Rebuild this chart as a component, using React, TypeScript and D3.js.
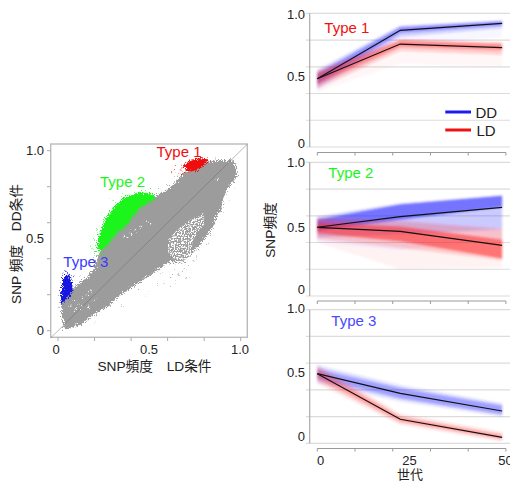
import React from 'react';
import * as d3 from 'd3';

type Pt = [number, number];

// scatter: outlines of the clouds (LD freq, DD freq)
const greyCloud: Pt[] = [
  [.033,.009],[.022,.082],[.022,.154],[.066,.226],[.104,.254],[.159,.293],[.192,.337],[.23,.44],[.27,.5],
  [.31,.56],[.378,.62],[.43,.69],[.487,.72],[.536,.75],[.597,.782],[.64,.821],[.684,.876],[.739,.893],
  [.816,.937],[.887,.948],[.925,.943],[.952,.954],[.974,.909],[.98,.859],[.958,.826],[.925,.782],[.903,.726],
  [.892,.67],[.865,.626],[.848,.576],[.805,.516],[.777,.476],[.722,.421],[.684,.377],[.613,.382],[.558,.349],
  [.504,.31],[.449,.271],[.356,.21],[.268,.132],[.192,.087],[.12,.032],[.05,.009],
];
const speckleArea: Pt[] = [
  [.602,.504],[.651,.559],[.722,.615],[.794,.654],[.805,.598],[.739,.504],[.722,.393],[.651,.376],[.602,.432],
];
const greenCloud: Pt[] = [
  [.213,.465],[.23,.548],[.257,.615],[.285,.659],[.317,.698],[.356,.737],[.405,.754],[.449,.77],[.52,.759],
  [.531,.732],[.449,.682],[.378,.587],[.312,.532],[.268,.465],[.23,.437],
];
const redCloud: Pt[] = [[.685,.915],[.725,.95],[.78,.96],[.83,.95],[.795,.915],[.755,.885],[.71,.885]];
const blueCloud: Pt[] = [[.012,.16],[.02,.24],[.03,.3],[.055,.315],[.08,.27],[.078,.22],[.055,.185],[.03,.155]];

const greyDots: Pt[] = [
  [.56,.32],[.6,.33],[.62,.3],[.64,.33],[.66,.31],[.68,.33],[.7,.34],[.72,.36],[.74,.39],[.76,.41],[.79,.44],
  [.82,.48],[.85,.53],[.64,.27],[.67,.26],[.7,.29],[.73,.31],[.58,.27],[.54,.26],[.62,.24],[.5,.22],[.48,.2],
  [.44,.24],[.35,.14],[.2,.05],[.9,.66],[.97,.8],[.94,.72],[.2,.42],[.15,.34],[.12,.3],[.08,.27],[.55,.78],
  [.6,.82],[.63,.85],[.01,.13],[.03,.06],
];
const whiteDots: Pt[] = [
  [.09,.17],[.12,.15],[.14,.18],[.16,.2],[.18,.22],[.13,.12],[.1,.12],[.2,.17],[.17,.13],[.07,.14],
  [.36,.53],[.38,.52],[.4,.54],[.42,.56],[.45,.58],[.48,.61],[.5,.6],[.87,.84],
];
const greenDots: Pt[] = [[.179,.481],[.2,.44],[.21,.56],[.19,.46],[.24,.42],[.25,.65],[.3,.72],[.358,.754],[.43,.785],[.22,.42],[.2,.51],[.27,.68],[.5,.785]];
const redDots: Pt[] = [[.631,.896],[.65,.883],[.668,.893],[.64,.907],[.677,.92],[.686,.874],[.659,.865],[.695,.883],[.622,.883],[.704,.893],[.67,.875],[.68,.905]];
const blueDots: Pt[] = [[.015,.167],[.057,.32],[.038,.325],[.075,.3],[.02,.152],[.045,.33]];

const scatterTicks = [0, .2, .4, .6, .8, 1];
const scatterLabels = ['0', '0.5', '1.0'];

// time course panels
const generations = [0, 22, 49];
const axisGens = [0, 10, 20, 30, 40, 50];
const gridValues = [0, .2, .4, .6, .8, 1];

const type1DD = [.511, .873, .925];
const type1LD = [.511, .77, .743];
const type2DD = [.514, .594, .663];
const type2LD = [.514, .484, .379];
const type3DD = [.521, .374, .242];
const type3LD = [.521, .18, .045];

// bands are [low values, high values], outermost first
const type1DDBands = [
  [[.41, .76, .82], [.59, .915, .95]],
  [[.44, .825, .89], [.57, .905, .945]],
  [[.47, .855, .91], [.55, .895, .94]],
];
const type1LDBands = [
  [[.41, .62, .6], [.59, .81, .785]],
  [[.44, .72, .69], [.57, .805, .78]],
  [[.47, .75, .725], [.55, .795, .77]],
];
const type2DDBands = [
  [[.406, .34, .42], [.594, .7, .76]],
  [[.44, .46, .5], [.59, .69, .75]],
  [[.49, .57, .665], [.57, .685, .75]],
];
const type2LDBands = [
  [[.4, .2, .215], [.59, .58, .51]],
  [[.43, .36, .27], [.585, .56, .5]],
  [[.47, .41, .28], [.55, .52, .42]],
];
const type3DDBands = [
  [[.449, .312, .2], [.586, .436, .3]],
  [[.47, .33, .21], [.57, .42, .29]],
  [[.49, .34, .22], [.55, .41, .28]],
];
const type3LDBands = [
  [[.449, .14, .015], [.586, .22, .085]],
  [[.47, .155, .025], [.57, .205, .07]],
  [[.49, .165, .035], [.55, .195, .06]],
];

const FONT = '"Liberation Sans", "Noto Sans CJK JP", sans-serif';
const TEXT = '#222';
const BLUE = '#2a2aff';
const RED = '#ff2a2a';

const sx = d3.scaleLinear().domain([0, 1]).range([58, 240.7]);
const sy = d3.scaleLinear().domain([0, 1]).range([330.7, 150.7]);
const px = d3.scaleLinear().domain([0, 50]).range([317.3, 505.9]);

const poly = d3.line<Pt>().x(d => sx(d[0])).y(d => sy(d[1])).curve(d3.curveLinearClosed);

const Dots = ({ data, fill, r = .6 }: { data: Pt[]; fill: string; r?: number }) => (
  <g fill={fill}>
    {data.map((d, i) => <circle key={i} cx={sx(d[0])} cy={sy(d[1])} r={r} />)}
  </g>
);

const Scatter = () => (
  <g>
    <rect x={50.7} y={144} width={196.6} height={193.3} fill="none" stroke="#bbb" strokeWidth={1.4} />
    {scatterTicks.map(t => (
      <g key={t} stroke="#aaa">
        <line x1={sx(t)} x2={sx(t)} y1={337.3} y2={341} />
        <line x1={47} x2={50.7} y1={sy(t)} y2={sy(t)} />
      </g>
    ))}
    <g filter="url(#rough)">
      <path d={poly(greyCloud) || ''} fill="#9c9c9c" />
      <Dots data={greyDots} fill="#9c9c9c" />
      <Dots data={whiteDots} fill="#fff" r={.9} />
    </g>
    <path d={poly(speckleArea) || ''} fill="#fff" filter="url(#speckle)" />
    <g filter="url(#rough)">
      <path d={poly(greenCloud) || ''} fill="#1cf51c" />
      <Dots data={greenDots} fill="#1cf51c" />
      <path d={poly(redCloud) || ''} fill="#f01010" />
      <Dots data={redDots} fill="#f01010" />
      <path d={poly(blueCloud) || ''} fill="#1414e0" />
      <Dots data={blueDots} fill="#1414e0" />
    </g>
    <line x1={sx(-.04)} x2={sx(1.036)} y1={sy(-.04)} y2={sy(1.036)} stroke="#666" strokeOpacity={.45} strokeWidth={1} />
    <g fontSize={13} fill={TEXT} fontFamily={FONT}>
      <text x={44} y={155} textAnchor="end">{scatterLabels[2]}</text>
      <text x={44} y={243} textAnchor="end">{scatterLabels[1]}</text>
      <text x={44} y={335} textAnchor="end">{scatterLabels[0]}</text>
      <text x={56} y={354} textAnchor="middle">{scatterLabels[0]}</text>
      <text x={149} y={354} textAnchor="middle">{scatterLabels[1]}</text>
      <text x={240} y={354} textAnchor="middle">{scatterLabels[2]}</text>
      <text x={154.5} y={371} textAnchor="middle" fontSize={13.7}>SNP頻度　LD条件</text>
      <text transform="translate(21,244) rotate(-90)" textAnchor="middle" fontSize={13.7}>SNP 頻度　DD条件</text>
    </g>
    <g fontSize={15} fontFamily={FONT}>
      <text x={156.5} y={157} fill="#f01010">Type 1</text>
      <text x={100} y={187} fill="#1cf51c">Type 2</text>
      <text x={63.3} y={267} fill="#3a3aff">Type 3</text>
    </g>
  </g>
);

type PanelProps = {
  top: number;
  bottom: number;
  dd: number[];
  ld: number[];
  ddBands: number[][][];
  ldBands: number[][][];
  opacities: number[];
  labelShift: number[];
  title: string;
  titleX: number;
  titleY: number;
  titleColor: string;
};

const Panel = ({ top, bottom, dd, ld, ddBands, ldBands, opacities, labelShift, title, titleX, titleY, titleColor }: PanelProps) => {
  const y = d3.scaleLinear().domain([0, 1]).range([bottom, top]);
  const mean = d3.line<number>().x((_, i) => px(generations[i])).y(d => y(d));
  const band = (b: number[][]) =>
    d3.area<number>()
      .x((_, i) => px(generations[i]))
      .y0((_, i) => y(b[0][i]))
      .y1((_, i) => y(b[1][i]))(generations) || '';
  return (
    <g>
      {gridValues.map(v => (
        <line key={v} x1={306} x2={510} y1={y(v)} y2={y(v)} stroke="#dcdcdc" strokeWidth={1.2} />
      ))}
      <line x1={309.7} x2={309.7} y1={y(1)} y2={y(0)} stroke="#aaa" strokeWidth={1.2} />
      <g filter="url(#softer)">
        {ddBands.map((b, i) => <path key={i} d={band(b)} fill={BLUE} opacity={opacities[i]} />)}
        {ldBands.map((b, i) => <path key={i} d={band(b)} fill={RED} opacity={opacities[i]} />)}
      </g>
      <path d={mean(dd) || ''} fill="none" stroke="#111" strokeWidth={1.2} />
      <path d={mean(ld) || ''} fill="none" stroke="#111" strokeWidth={1.2} />
      <g fontSize={13} fill={TEXT} fontFamily={FONT} textAnchor="end">
        {['0', '0.5', '1.0'].map((s, i) => (
          <text key={s} x={305} y={y(i / 2) + labelShift[i]}>{s}</text>
        ))}
      </g>
      <text x={titleX} y={titleY} fontSize={15} fontFamily={FONT} fill={titleColor}>{title}</text>
    </g>
  );
};

const GenAxis = ({ y }: { y: number }) => (
  <g stroke="#999">
    <line x1={px(0)} x2={px(50)} y1={y} y2={y} />
    {axisGens.map(g => <line key={g} x1={px(g)} x2={px(g)} y1={y} y2={y + 3} />)}
  </g>
);

export default function App() {
  return (
    <svg width={510} height={481} style={{ position: 'absolute', left: 0, top: 0 }}>
      <defs>
        <filter id="rough" filterUnits="userSpaceOnUse" x={40} y={135} width={215} height={210}>
          <feTurbulence type="fractalNoise" baseFrequency={.85} numOctaves={2} seed={4} result="noise" />
          <feDisplacementMap in="SourceGraphic" in2="noise" scale={9} xChannelSelector="R" yChannelSelector="G" />
          <feGaussianBlur stdDeviation={.3} />
        </filter>
        {/* white flecks: thresholded noise cut out of the filled shape */}
        <filter id="speckle" filterUnits="userSpaceOnUse" x={40} y={135} width={215} height={210} colorInterpolationFilters="sRGB">
          <feTurbulence type="fractalNoise" baseFrequency={.7} numOctaves={2} seed={9} result="noise" />
          <feColorMatrix in="noise" type="matrix" values="0 0 0 0 0  0 0 0 0 0  0 0 0 0 0  9 0 0 0 -4.3" result="mask" />
          <feComposite in="SourceGraphic" in2="mask" operator="in" />
          <feGaussianBlur stdDeviation={.35} />
        </filter>
        <filter id="softer" x="-5%" y="-10%" width="110%" height="120%">
          <feGaussianBlur stdDeviation={1.2} />
        </filter>
      </defs>
      <rect width={510} height={481} fill="#fff" />
      <Scatter />
      <Panel top={13.3} bottom={147} dd={type1DD} ld={type1LD} ddBands={type1DDBands} ldBands={type1LDBands}
        opacities={[.03, .2, .4]} labelShift={[1, 1, 6]} title="Type 1" titleX={324.3} titleY={32.5} titleColor="#f01010" />
      <Panel top={162.3} bottom={296} dd={type2DD} ld={type2LD} ddBands={type2DDBands} ldBands={type2LDBands}
        opacities={[.05, .2, .55]} labelShift={[-2, 2.5, 4.4]} title="Type 2" titleX={328.3} titleY={178} titleColor="#1cf51c" />
      <Panel top={309.7} bottom={443.3} dd={type3DD} ld={type3LD} ddBands={type3DDBands} ldBands={type3LDBands}
        opacities={[.12, .16, .24]} labelShift={[-2.6, 0, 3.6]} title="Type 3" titleX={331.3} titleY={325.7} titleColor="#4a4aff" />
      <GenAxis y={152.5} />
      <GenAxis y={301} />
      <GenAxis y={448.5} />
      <g fontSize={13} fill={TEXT} fontFamily={FONT} textAnchor="middle">
        <text x={320.5} y={465}>0</text>
        <text x={409.5} y={465}>25</text>
        <text x={505.5} y={465}>50</text>
        <text x={410} y={479}>世代</text>
        <text transform="translate(275,230) rotate(-90)" fontSize={13.7}>SNP頻度</text>
      </g>
      <line x1={445.3} x2={471} y1={112} y2={112} stroke="#1c1cee" strokeWidth={3} />
      <line x1={445.3} x2={471} y1={130} y2={130} stroke="#ee1111" strokeWidth={3} />
      <g fontSize={15} fill={TEXT} fontFamily={FONT}>
        <text x={475.5} y={118}>DD</text>
        <text x={476.5} y={136}>LD</text>
      </g>
    </svg>
  );
}
